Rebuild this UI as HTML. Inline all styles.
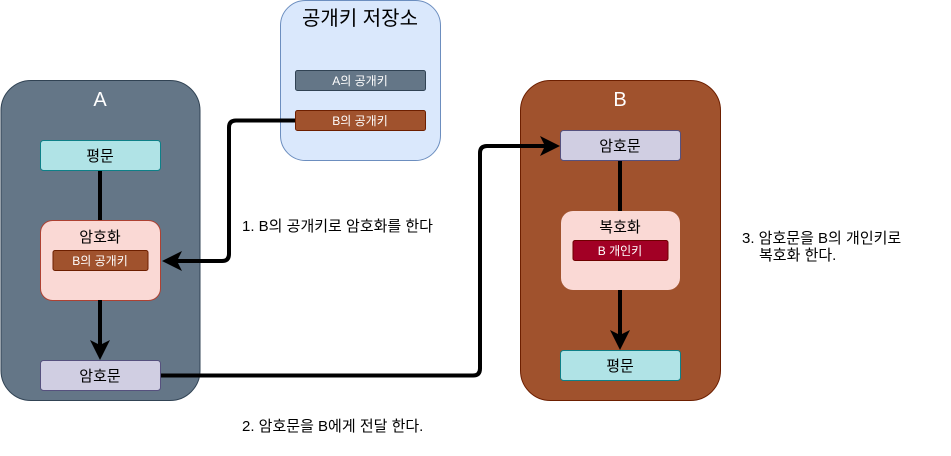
<!DOCTYPE html>
<html><head><meta charset="utf-8"><style>
body{margin:0;background:#fff}
text{font-family:"Liberation Sans","Noto Sans CJK KR",sans-serif}
</style></head><body>
<svg width="951" height="451" viewBox="0 0 951 451" xmlns="http://www.w3.org/2000/svg">
<!-- A -->
<rect x="1" y="80.5" width="199" height="320" rx="30" fill="#647687" stroke="#314354"/>
<text x="100" y="106" font-size="20" fill="#fff" text-anchor="middle">A</text>
<!-- Store -->
<rect x="280.5" y="0.5" width="160" height="160" rx="25" fill="#dae8fc" stroke="#6c8ebf"/>
<text x="360" y="25" font-size="20" fill="#000" text-anchor="middle">공개키 저장소</text>
<rect x="295.5" y="70.5" width="130" height="20" rx="2" fill="#647687" stroke="#314354"/>
<text x="360" y="85" font-size="12" fill="#fff" text-anchor="middle">A의 공개키</text>
<rect x="295.5" y="110.5" width="130" height="20" rx="2" fill="#a0522d" stroke="#6d1f00"/>
<text x="360" y="125" font-size="12" fill="#fff" text-anchor="middle">B의 공개키</text>
<!-- A inner -->
<line x1="100" y1="170" x2="100" y2="220" stroke="#000" stroke-width="4"/>
<rect x="40.5" y="140.5" width="120" height="30" rx="3" fill="#b0e3e6" stroke="#0e8088"/>
<text x="100" y="161" font-size="15" text-anchor="middle">평문</text>
<rect x="40.5" y="220.5" width="120" height="80" rx="12" fill="#fad9d5" stroke="#ae4132"/>
<text x="100" y="242" font-size="15" text-anchor="middle">암호화</text>
<rect x="53" y="250.5" width="95" height="20" rx="2" fill="#a0522d" stroke="#6d1f00"/>
<text x="100" y="265" font-size="12" fill="#fff" text-anchor="middle">B의 공개키</text>
<line x1="100" y1="300" x2="100" y2="345" stroke="#000" stroke-width="4"/>
<polygon points="90,340 100,360 110,340 100,345" fill="#000"/>
<rect x="40.5" y="360.5" width="120" height="30" rx="3" fill="#d0cee2" stroke="#56517e"/>
<text x="100" y="381" font-size="15" text-anchor="middle">암호문</text>
<!-- B -->
<rect x="520.5" y="80.5" width="200" height="320" rx="30" fill="#a0522d" stroke="#6d1f00"/>
<text x="620" y="106" font-size="20" fill="#fff" text-anchor="middle">B</text>
<line x1="620" y1="160" x2="620" y2="211" stroke="#000" stroke-width="4"/>
<rect x="560.5" y="130.5" width="120" height="30" rx="3" fill="#d0cee2" stroke="#56517e"/>
<text x="620" y="151" font-size="15" text-anchor="middle">암호문</text>
<rect x="561" y="211" width="119" height="79" rx="12" fill="#fad9d5"/>
<text x="620" y="232" font-size="15" text-anchor="middle">복호화</text>
<rect x="573" y="240.5" width="95" height="20" rx="2" fill="#a20025" stroke="#6f0000"/>
<text x="620" y="255" font-size="12" fill="#fff" text-anchor="middle">B 개인키</text>
<line x1="620" y1="290" x2="620" y2="335" stroke="#000" stroke-width="4"/>
<polygon points="610,330 620,350 630,330 620,335" fill="#000"/>
<rect x="560.5" y="350.5" width="120" height="30" rx="3" fill="#b0e3e6" stroke="#0e8088"/>
<text x="620" y="371" font-size="15" text-anchor="middle">평문</text>
<!-- connector 1 -->
<path d="M295,120.5 H236 Q229,120.5 229,127.5 V254 Q229,261 222,261 H175" fill="none" stroke="#000" stroke-width="4"/>
<polygon points="182,251 162,261 182,271 177,261" fill="#000"/>
<!-- connector 2 -->
<path d="M161,375.5 H473 Q480,375.5 480,368.5 V153 Q480,146 487,146 H545" fill="none" stroke="#000" stroke-width="4"/>
<polygon points="540,136 560,146 540,156 545,146" fill="#000"/>
<!-- labels -->
<text x="242" y="231" font-size="15">1. B의 공개키로 암호화를 한다</text>
<text x="242" y="431" font-size="15">2. 암호문을 B에게 전달 한다.</text>
<text x="742" y="243" font-size="15">3. 암호문을 B의 개인키로</text>
<text x="759" y="260" font-size="15">복호화 한다.</text>
</svg>
</body></html>
